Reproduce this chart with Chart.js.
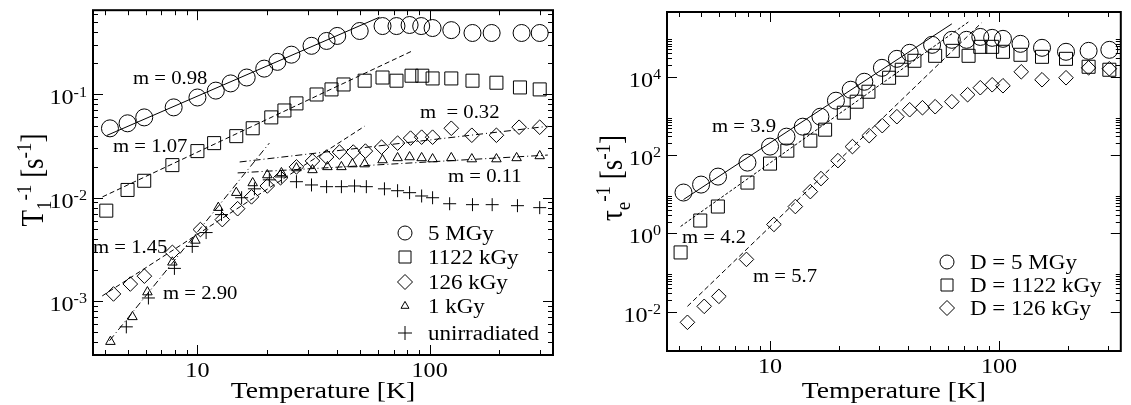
<!DOCTYPE html>
<html>
<head>
<meta charset="utf-8">
<script src="https://cdn.jsdelivr.net/npm/chart.js@4.4.1/dist/chart.umd.min.js"></script>
<style>
  html, body { margin: 0; padding: 0; background: #fff; }
  #wrap { position: relative; width: 1131px; height: 405px; }
  canvas { position: absolute; top: 0; }
  #t1Chart { left: 0; }
  #tauChart { left: 565px; }
</style>
</head>
<body>
<div id="wrap">
  <canvas id="t1Chart" width="565" height="405"></canvas>
  <canvas id="tauChart" width="566" height="405"></canvas>
</div>
<script>
// ---------- shared temperature axis ----------
const tempMin = 3.55;
const tempMax = 340;
const tempMajor = [10, 100];
const tempMinor = [4, 5, 6, 7, 8, 9, 20, 30, 40, 50, 60, 70, 80, 90, 200, 300];

// ---------- left panel: T1^-1 [s^-1] ----------
const t1Min = 3.1e-4;
const t1Max = 0.655;
const t1Major = [1e-3, 1e-2, 1e-1];
const t1Minor = [4e-4, 5e-4, 6e-4, 7e-4, 8e-4, 9e-4,
  2e-3, 3e-3, 4e-3, 5e-3, 6e-3, 7e-3, 8e-3, 9e-3,
  2e-2, 3e-2, 4e-2, 5e-2, 6e-2, 7e-2, 8e-2, 9e-2,
  0.2, 0.3, 0.4, 0.5, 0.6];

const tempA5MGy = [4.2, 5, 5.9, 7.9, 10, 12, 13.9, 16.3, 19.4, 22.1, 25.4, 31, 36, 40, 50, 62.7, 72, 82, 92, 103, 124, 153, 185, 249, 298];
const rateA5MGy = [0.047, 0.0526, 0.060, 0.075, 0.0935, 0.109, 0.128, 0.146, 0.178, 0.207, 0.243, 0.296, 0.330, 0.369, 0.412, 0.46, 0.46, 0.471, 0.46, 0.44, 0.42, 0.394, 0.394, 0.394, 0.394];

const tempA1122 = [4.05, 5, 5.9, 7.8, 10, 11.8, 14.7, 17.3, 20.8, 23.7, 26.7, 32.6, 37.8, 42.6, 52.5, 62.7, 72, 83.6, 93, 103, 124, 153, 194, 245, 298];
const rateA1122 = [0.0075, 0.0119, 0.0146, 0.0207, 0.0283, 0.0338, 0.0395, 0.0471, 0.060, 0.070, 0.082, 0.100, 0.112, 0.125, 0.136, 0.146, 0.136, 0.152, 0.152, 0.143, 0.143, 0.136, 0.130, 0.117, 0.112];

const tempA126 = [4.35, 5.14, 5.91, 7.8, 10.3, 12.8, 14.9, 17.1, 20.0, 22.8, 26.7, 31.3, 36.0, 40.9, 46.9, 52.9, 62.1, 72.8, 82.8, 92.4, 103, 124, 152, 194, 243, 298];
const rateA126 = [0.00117, 0.00146, 0.00174, 0.00296, 0.00492, 0.00614, 0.00783, 0.0102, 0.0130, 0.0156, 0.0199, 0.0227, 0.0248, 0.0277, 0.0277, 0.0283, 0.0309, 0.0338, 0.0378, 0.0386, 0.0386, 0.0471, 0.0403, 0.0403, 0.0482, 0.0482];

const tempA1k = [4.22, 5.25, 6.09, 7.8, 9.8, 12.3, 14.7, 17.3, 20.0, 23.0, 26.7, 31.3, 36.3, 41.7, 46.5, 52.5, 62.7, 72.8, 82, 92.4, 103, 124, 152, 194, 237, 298];
const rateA1k = [4.04e-4, 7.02e-4, 1.22e-3, 2.37e-3, 3.86e-3, 8.02e-3, 0.0112, 0.0139, 0.0166, 0.0174, 0.0194, 0.0186, 0.0199, 0.0199, 0.0212, 0.0212, 0.0232, 0.0243, 0.0248, 0.0243, 0.0237, 0.0243, 0.0237, 0.0237, 0.0243, 0.0254];

const tempAunirr = [4.94, 6.15, 7.96, 9.5, 10.9, 12.7, 15.5, 17.6, 20.4, 23.0, 26.7, 31.0, 36.0, 41.7, 47.5, 53.4, 63.9, 72.8, 82, 92.4, 103, 122, 153, 186, 239, 298];
const rateAunirr = [5.62e-4, 1.07e-3, 2.07e-3, 3.38e-3, 4.6e-3, 6.87e-3, 0.0100, 0.0122, 0.0149, 0.0159, 0.0143, 0.0133, 0.0128, 0.0128, 0.0130, 0.0128, 0.0122, 0.0117, 0.0112, 0.0104, 0.0100, 0.00875, 0.00857, 0.00857, 0.00838, 0.00802];

// power law guide lines (end points)
const fit098T = [4.06, 60.8], fit098R = [0.040, 0.56];
const fit107T = [3.9, 84.5], fit107R = [0.0102, 0.265];
const fit145T = [3.89, 52.5], fit145R = [0.00112, 0.0493];
const fit290T = [4.18, 20.4], fit290R = [4.12e-4, 0.0338];
const fit032T = [15.2, 323], fit032R = [0.0222, 0.0492];
const fit011T = [14.9, 323], fit011R = [0.0174, 0.0259];

// ---------- right panel: tau_e^-1 [s^-1] ----------
const tauMin = 1e-3;
const tauMax = 4.5e5;
const tauMajor = [1e-2, 1, 1e2, 1e4];
const tauMinor = [2, 3, 4, 5, 6, 7, 8, 9].flatMap(m => [m * 1e-2, m, m * 1e2, m * 1e4]);

const tempB5MGy = [4.19, 5.0, 5.93, 7.97, 10, 11.8, 13.9, 16.6, 19.4, 22.5, 25.8, 30.8, 35.8, 40.7, 51, 62.2, 72.1, 82.8, 93.3, 104, 124, 154, 196, 246, 303];
const rateB5MGy = [11.1, 17.7, 28.3, 64.4, 165, 296, 532, 957, 2450, 4670, 7460, 16900, 28700, 40900, 65300, 87700, 87700, 104000, 98500, 92900, 69300, 54800, 43400, 45900, 48700];

const tempB1122 = [4.07, 4.96, 5.92, 7.97, 10, 11.9, 15.0, 17.4, 21.0, 23.9, 26.9, 33.1, 37.6, 42.7, 52.6, 62.8, 73.6, 82.8, 93.3, 104, 124, 154, 196, 246, 303];
const rateB1122 = [0.328, 2.14, 4.87, 19.9, 60.7, 130, 234, 446, 1210, 2310, 4150, 9440, 15100, 25600, 34300, 45900, 34300, 58100, 58100, 43400, 36400, 32300, 28700, 18000, 15100];

const tempB126 = [4.36, 5.16, 5.98, 7.89, 10.4, 12.9, 15.0, 16.7, 19.8, 22.9, 27.1, 30.9, 35.8, 40.7, 46.3, 52.6, 62.2, 72.9, 82.8, 93.3, 104, 125, 154, 196, 246, 303];
const rateB126 = [0.0054, 0.0138, 0.0248, 0.218, 1.70, 4.87, 11.7, 25.2, 72.4, 165, 314, 565, 957, 1440, 1620, 1720, 2310, 3480, 5250, 6250, 5900, 13400, 8390, 9440, 16900, 16000];

const fit39T = [4.19, 62.2], fit39R = [7.35, 2.24e5];
const fit42T = [4.07, 73.6], fit42R = [1.51, 2.52e5];
const fit57T = [4.36, 83.8], fit57R = [0.0138, 2.38e5];

// ---------- drawing helpers ----------
const SERIF = '"Liberation Serif", "Times New Roman", Times, serif';
const SX = 1.15;   // the original figure is slightly stretched horizontally

const pts = (xs, ys) => xs.map((x, i) => ({ x, y: ys[i] }));

function markers(label, xs, ys, style, radius) {
  return {
    label, data: pts(xs, ys), showLine: false,
    pointStyle: style, pointRadius: radius, pointHoverRadius: radius,
    pointBorderColor: '#000', pointBackgroundColor: 'rgba(0,0,0,0)', pointBorderWidth: 1
  };
}

function guide(xs, ys, dash) {
  return {
    data: pts(xs, ys), showLine: true, fill: false,
    borderColor: '#000', borderWidth: 1, borderDash: dash, pointRadius: 0
  };
}

// parts: [text, shift]  shift 1 = superscript, -1 = subscript
function runWidth(ctx, parts, size, ratio = 0.68) {
  let w = 0;
  for (const [s, m] of parts) {
    ctx.font = (m ? Math.round(size * ratio) : size) + 'px ' + SERIF;
    w += ctx.measureText(s).width;
  }
  return w;
}

function drawRun(ctx, parts, x, y, size, ratio = 0.68) {
  for (const [s, m] of parts) {
    ctx.font = (m ? Math.round(size * ratio) : size) + 'px ' + SERIF;
    const dy = m === 1 ? -size * 0.38 : (m === -1 ? size * 0.25 : 0);
    ctx.fillText(s, x, y + dy);
    x += ctx.measureText(s).width;
  }
}

// draw a run with the horizontal stretch; align: 'left' | 'right' | 'center'
function text(ctx, parts, x, y, size, align) {
  const w = runWidth(ctx, parts, size) * SX;
  const x0 = align === 'right' ? x - w : (align === 'center' ? x - w / 2 : x);
  ctx.save();
  ctx.translate(x0, y);
  ctx.scale(SX, 1);
  drawRun(ctx, parts, 0, 0, size);
  ctx.restore();
}

function shape(ctx, kind, x, y, r) {
  ctx.beginPath();
  if (kind === 'circle') {
    ctx.arc(x, y, r, 0, Math.PI * 2);
  } else if (kind === 'rect') {
    ctx.rect(x - r, y - r, 2 * r, 2 * r);
  } else if (kind === 'rectRot') {
    ctx.moveTo(x - r, y); ctx.lineTo(x, y - r); ctx.lineTo(x + r, y); ctx.lineTo(x, y + r); ctx.closePath();
  } else if (kind === 'triangle') {
    ctx.moveTo(x, y - r); ctx.lineTo(x + r * 0.866, y + r / 2); ctx.lineTo(x - r * 0.866, y + r / 2); ctx.closePath();
  } else if (kind === 'cross') {
    ctx.moveTo(x - r, y); ctx.lineTo(x + r, y); ctx.moveTo(x, y - r); ctx.lineTo(x, y + r);
  }
  ctx.stroke();
}

const expLabel = v => [['10', 0], [String(Math.round(Math.log10(v))), 1]];

// frame, inward ticks, labels, notes and legend in xmgrace style
function gracePlugin(cfg) {
  return {
    id: 'grace',
    afterDraw(chart) {
      const { ctx, chartArea: a } = chart;
      const xs = chart.scales.x, ys = chart.scales.y;
      ctx.save();
      ctx.fillStyle = '#000';
      ctx.strokeStyle = '#000';
      ctx.textBaseline = 'alphabetic';

      ctx.lineWidth = 1;
      ctx.beginPath();
      const tickX = (v, len) => {
        const p = Math.round(xs.getPixelForValue(v)) + 0.5;
        ctx.moveTo(p, a.bottom); ctx.lineTo(p, a.bottom - len);
        ctx.moveTo(p, a.top); ctx.lineTo(p, a.top + len);
      };
      const tickY = (v, len) => {
        const p = Math.round(ys.getPixelForValue(v)) + 0.5;
        ctx.moveTo(a.left, p); ctx.lineTo(a.left + len, p);
        ctx.moveTo(a.right, p); ctx.lineTo(a.right - len, p);
      };
      tempMajor.forEach(v => tickX(v, 10));
      tempMinor.forEach(v => tickX(v, 5));
      cfg.yMajor.forEach(v => tickY(v, 10));
      cfg.yMinor.forEach(v => tickY(v, 5));
      ctx.stroke();

      ctx.lineWidth = 2;
      ctx.strokeRect(a.left, a.top, a.right - a.left, a.bottom - a.top);

      // tick labels
      tempMajor.forEach(v => text(ctx, [[String(v), 0]], xs.getPixelForValue(v), a.bottom + 22, 21, 'center'));
      cfg.yMajor.forEach(v => text(ctx, expLabel(v), a.left - 6, ys.getPixelForValue(v) + 10, 21, 'right'));

      // axis titles
      text(ctx, [['Temperature [K]', 0]], (a.left + a.right) / 2, 398, 24, 'center');
      ctx.save();
      ctx.translate(cfg.yTitleX, cfg.yTitleY);
      ctx.rotate(-Math.PI / 2);
      ctx.scale(1, SX);
      const tw = runWidth(ctx, cfg.yTitle, 27, 0.72);
      drawRun(ctx, cfg.yTitle, -tw / 2, 8, 27, 0.72);
      ctx.restore();

      // slope notes
      cfg.notes.forEach(([s, x, y]) => text(ctx, [[s, 0]], x, y + 6, 18, 'left'));

      // legend
      ctx.lineWidth = 1;
      cfg.legend.forEach(([kind, r, label], i) => {
        const y = cfg.legendY[i];
        shape(ctx, kind, cfg.legendX, y, r);
        text(ctx, [[label, 0]], cfg.legendX + 23, y + 7, 20, 'left');
      });
      ctx.restore();
    }
  };
}

function buildChart(id, datasets, yMin, yMax, padding, cfg) {
  return new Chart(document.getElementById(id), {
    type: 'scatter',
    data: { datasets },
    options: {
      responsive: false,
      animation: false,
      layout: { padding },
      plugins: { legend: { display: false }, tooltip: { enabled: false } },
      scales: {
        x: { type: 'logarithmic', min: tempMin, max: tempMax, display: false },
        y: { type: 'logarithmic', min: yMin, max: yMax, display: false }
      }
    },
    plugins: [gracePlugin(cfg)]
  });
}

// ---------- left chart ----------
buildChart('t1Chart', [
  guide(fit098T, fit098R, []),
  guide(fit107T, fit107R, [5, 3]),
  guide(fit145T, fit145R, [5, 3]),
  guide(fit290T, fit290R, [7, 3, 1, 3]),
  guide(fit032T, fit032R, [7, 3, 1, 3]),
  guide(fit011T, fit011R, [7, 3, 1, 3]),
  markers('5 MGy', tempA5MGy, rateA5MGy, 'circle', 8.5),
  markers('1122 kGy', tempA1122, rateA1122, 'rect', 9.2),
  markers('126 kGy', tempA126, rateA126, 'rectRot', 7.3),
  markers('1 kGy', tempA1k, rateA1k, 'triangle', 5.5),
  markers('unirradiated', tempAunirr, rateAunirr, 'cross', 6.5)
], t1Min, t1Max, { left: 93, right: 12, top: 9, bottom: 50 }, {
  yMajor: t1Major, yMinor: t1Minor,
  yTitle: [['T', 0], ['1', -1], ['-1', 1], [' [s', 0], ['-1', 1], [']', 0]],
  yTitleX: 34, yTitleY: 180,
  notes: [['m = 0.98', 133, 78], ['m = 1.07', 113, 146], ['m  = 0.32', 420, 112],
          ['m = 0.11', 448, 176], ['m = 1.45', 93, 247], ['m = 2.90', 163, 293]],
  legend: [['circle', 7, '5 MGy'], ['rect', 6, '1122 kGy'], ['rectRot', 7.5, '126 kGy'],
           ['triangle', 4.6, '1 kGy'], ['cross', 7, 'unirradiated']],
  legendX: 405, legendY: [233, 257, 282, 306, 333]
});

// ---------- right chart ----------
buildChart('tauChart', [
  guide(fit39T, fit39R, []),
  guide(fit42T, fit42R, [3, 2]),
  guide(fit57T, fit57R, [5, 3]),
  markers('D = 5 MGy', tempB5MGy, rateB5MGy, 'circle', 8.5),
  markers('D = 1122 kGy', tempB1122, rateB1122, 'rect', 9.2),
  markers('D = 126 kGy', tempB126, rateB126, 'rectRot', 7.3)
], tauMin, tauMax, { left: 102, right: 3, top: 12, bottom: 54 }, {
  yMajor: tauMajor, yMinor: tauMinor,
  yTitle: [['τ', 0], ['e', -1], ['-1', 1], [' [s', 0], ['-1', 1], [']', 0]],
  yTitleX: 48, yTitleY: 178,
  notes: [['m = 3.9', 147, 126], ['m = 4.2', 117, 237], ['m = 5.7', 188, 276]],
  legend: [['circle', 7, 'D = 5 MGy'], ['rect', 6, 'D = 1122 kGy'], ['rectRot', 7.5, 'D = 126 kGy']],
  legendX: 382, legendY: [262, 285, 308]
});
</script>
</body>
</html>
